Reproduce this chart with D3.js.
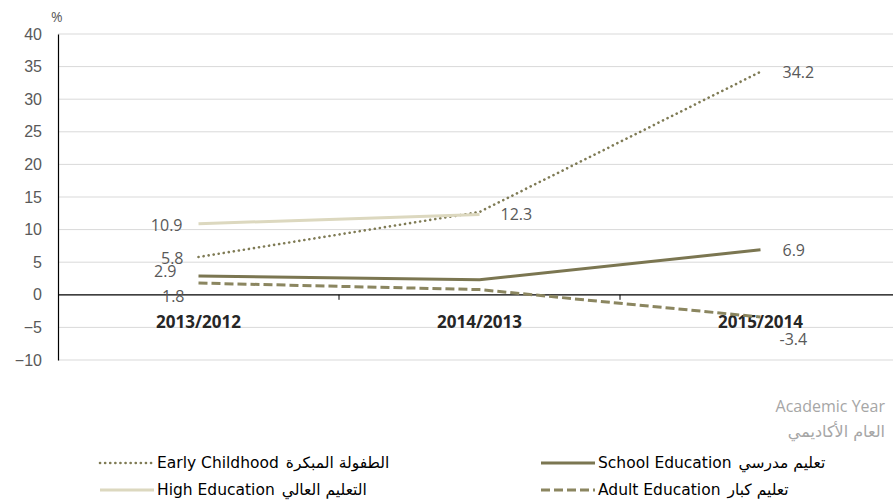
<!DOCTYPE html>
<html>
<head>
<meta charset="utf-8">
<script src="https://cdn.jsdelivr.net/npm/d3@7"></script>
<style>
  body { margin: 0; background: #fff; }
  svg { font-family: "Open Sans", "DejaVu Sans", sans-serif; }
</style>
</head>
<body>
<svg id="svg" width="893" height="503"></svg>
<script>
const years = ['2013/2012', '2014/2013', '2015/2014'];
const earlyChildhood = [5.8, 12.7, 34.2];
const highEducation = [10.9, 12.3, null];
const schoolEducation = [2.9, 2.3, 6.9];
const adultEducation = [1.8, 0.8, -3.4];
const yTicks = [-10, -5, 0, 5, 10, 15, 20, 25, 30, 35, 40];

const series = [
  { en: 'Early Childhood', ar: 'الطفولة المبكرة', values: earlyChildhood, color: '#7f7b55', width: 2.6, dash: '0.1 5', cap: 'round' },
  { en: 'High Education', ar: 'التعليم العالي', values: highEducation, color: '#dcd8bf', width: 3, dash: null, cap: 'butt' },
  { en: 'School Education', ar: 'تعليم مدرسي', values: schoolEducation, color: '#7b7651', width: 3, dash: null, cap: 'butt' },
  { en: 'Adult Education', ar: 'تعليم كبار', values: adultEducation, color: '#8b8660', width: 3, dash: '9 4', cap: 'butt' }
];

// labels: [series index, point index, dx, dy, anchor]
const labelPos = [
  [0, 0, -15, 7, 'end'], [0, 2, 22, 6, 'start'],
  [1, 0, -16, 7, 'end'], [1, 1, 21, 5, 'start'],
  [2, 0, -22, 1, 'end'], [2, 2, 22, 6, 'start'],
  [3, 0, -14, 19, 'end'], [3, 2, 19, 28, 'start']
];

const svg = d3.select('#svg');
const m = { left: 58, right: 901, top: 34, bottom: 360 };

const x = d3.scaleBand().domain(years).range([m.left, m.right]);
const y = d3.scaleLinear().domain([-10, 40]).range([m.bottom, m.top]);
const cx = d => x(d) + x.bandwidth() / 2;

// grid
svg.append('g').selectAll('line').data(yTicks.filter(t => t !== 0)).join('line')
  .attr('x1', m.left).attr('x2', 893).attr('y1', d => y(d)).attr('y2', d => y(d))
  .attr('stroke', '#d9d9d9').attr('stroke-width', 1);

// y axis
const ya = svg.append('g').attr('transform', `translate(${m.left},0)`)
  .call(d3.axisLeft(y).tickValues(yTicks).tickSize(0).tickPadding(16));
ya.select('.domain').attr('stroke', '#000').attr('stroke-width', 1.2);
ya.selectAll('text').attr('fill', '#595959').attr('font-size', 16).attr('font-family', null);

svg.append('text').attr('x', 51).attr('y', 22).attr('fill', '#595959')
  .attr('font-size', 14).text('%');

// zero line + ticks
svg.append('line').attr('x1', m.left).attr('x2', 893).attr('y1', y(0)).attr('y2', y(0))
  .attr('stroke', '#000').attr('stroke-width', 1.2);
svg.append('g').selectAll('line').data(years.slice(1)).join('line')
  .attr('x1', d => x(d)).attr('x2', d => x(d)).attr('y1', y(0)).attr('y2', y(0) + 5)
  .attr('stroke', '#000');

svg.append('g').selectAll('text').data(years).join('text')
  .attr('x', d => cx(d)).attr('y', y(0) + 33).attr('text-anchor', 'middle')
  .attr('font-weight', 'bold').attr('font-size', 17).attr('fill', '#262626')
  .text(d => d);

// lines
const line = d3.line().defined(d => d.v != null).x(d => cx(d.year)).y(d => y(d.v));
svg.append('g').selectAll('path').data(series).join('path')
  .attr('d', s => line(s.values.map((v, i) => ({ year: years[i], v }))))
  .attr('fill', 'none').attr('stroke', s => s.color).attr('stroke-width', s => s.width)
  .attr('stroke-dasharray', s => s.dash).attr('stroke-linecap', s => s.cap);

// value labels
svg.append('g').selectAll('text').data(labelPos).join('text')
  .attr('x', d => cx(years[d[1]]) + d[2])
  .attr('y', d => y(series[d[0]].values[d[1]]) + d[3])
  .attr('text-anchor', d => d[4]).attr('fill', '#595959').attr('font-size', 16)
  .text(d => series[d[0]].values[d[1]]);

// axis title
svg.append('text').attr('x', 885).attr('y', 412).attr('text-anchor', 'end')
  .attr('fill', '#a6a6a6').attr('font-size', 16).text('Academic Year');
svg.append('text').attr('x', 885).attr('y', 437).attr('text-anchor', 'end')
  .attr('fill', '#a6a6a6').attr('font-size', 16)
  .attr('font-family', '"DejaVu Sans", sans-serif')
  .text('العام الأكاديمي');

// legend
const legendPos = [[100, 463], [100, 490], [541, 463], [541, 490]];
const lg = svg.append('g').selectAll('g').data(series).join('g')
  .attr('transform', (d, i) => `translate(${legendPos[i][0]},${legendPos[i][1]})`);
lg.append('line').attr('x1', 0).attr('x2', 54).attr('y1', 0).attr('y2', 0)
  .attr('stroke', s => s.color).attr('stroke-width', s => s.width)
  .attr('stroke-dasharray', s => s.dash).attr('stroke-linecap', s => s.cap);
const lt = lg.append('text').attr('x', 57).attr('y', 5).attr('font-size', 15.5)
  .attr('font-family', '"DejaVu Sans", sans-serif').attr('fill', '#000');
lt.append('tspan').text(s => s.en);
lt.append('tspan').attr('dx', 7).text(s => s.ar);
</script>
</body>
</html>
